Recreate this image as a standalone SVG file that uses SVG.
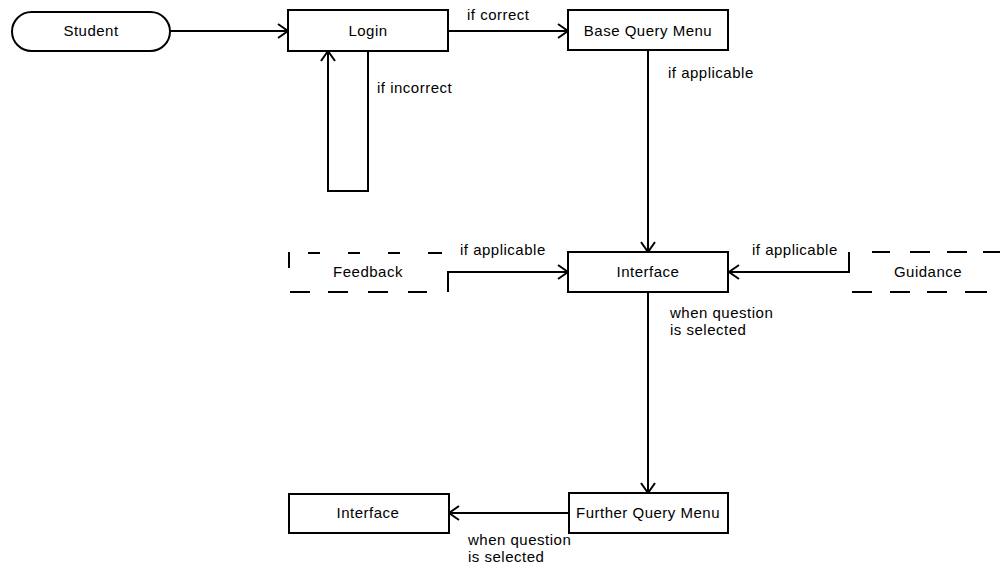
<svg xmlns="http://www.w3.org/2000/svg" width="1000" height="566" viewBox="0 0 1000 566">
<defs>
<style>
.box{fill:#fff;stroke:#000;stroke-width:2}
.t{font-family:"Liberation Sans",Arial,sans-serif;font-size:15px;letter-spacing:0.5px;fill:#000}
.c{text-anchor:middle}
.ln{fill:none;stroke:#000;stroke-width:2}
.d{fill:none;stroke:#000;stroke-width:2}
</style>
<marker id="arr" viewBox="0 0 12 16" refX="11" refY="8" markerWidth="12" markerHeight="16" markerUnits="userSpaceOnUse" orient="auto">
<path d="M1,1 L11,8 L1,15" fill="none" stroke="#000" stroke-width="2"/>
</marker>
</defs>
<rect width="1000" height="566" fill="#fff"/>
<g id="connectors">
<path class="ln" d="M170,31 H288" marker-end="url(#arr)"/>
<path class="ln" d="M368,51 V191 H328 V51" marker-end="url(#arr)"/>
<path class="ln" d="M448,31 H568" marker-end="url(#arr)"/>
<path class="ln" d="M648,50 V252" marker-end="url(#arr)"/>
<path class="ln" d="M448,292 V272 H568" marker-end="url(#arr)"/>
<path class="ln" d="M849,252 V272 H729" marker-end="url(#arr)"/>
<path class="ln" d="M648,292 V493" marker-end="url(#arr)"/>
<path class="ln" d="M568,513 H449" marker-end="url(#arr)"/>
<text class="t" x="467" y="20">if correct</text>
<text class="t" x="377" y="93">if incorrect</text>
<text class="t" x="668" y="78">if applicable</text>
<text class="t" x="460" y="255">if applicable</text>
<text class="t" x="752" y="255">if applicable</text>
<text class="t" x="670" y="318">when question</text>
<text class="t" x="670" y="335">is selected</text>
<text class="t" x="468" y="545">when question</text>
<text class="t" x="468" y="562">is selected</text>
</g>
<g id="student">
<rect class="box" x="12" y="12" width="158" height="39" rx="19.5"/>
<text class="t c" x="91" y="36">Student</text>
</g>
<g id="login">
<rect class="box" x="288" y="10" width="160" height="41"/>
<text class="t c" x="368" y="36">Login</text>
</g>
<g id="base-query-menu">
<rect class="box" x="568" y="10" width="160" height="40"/>
<text class="t c" x="648" y="36">Base Query Menu</text>
</g>
<g id="interface">
<rect class="box" x="568" y="252" width="160" height="40"/>
<text class="t c" x="648" y="277">Interface</text>
</g>
<g id="feedback">
<path class="d" d="M289,252 V268"/>
<path class="d" d="M308,253 H320 M348,253 H360 M388,253 H400 M428,253 H442"/>
<path class="d" d="M290,292 H310 M328,292 H348 M368,292 H388 M408,292 H427"/>
<text class="t c" x="368" y="277">Feedback</text>
</g>
<g id="guidance">
<path class="d" d="M872,252 H890 M910,252 H930 M947,252 H967 M983,252 H1000"/>
<path class="d" d="M852,292 H872 M890,292 H910 M927,292 H947 M965,292 H987"/>
<text class="t c" x="928" y="277">Guidance</text>
</g>
<g id="further-query-menu">
<rect class="box" x="569" y="493" width="159" height="40"/>
<text class="t c" x="648" y="518">Further Query Menu</text>
</g>
<g id="interface-2">
<rect class="box" x="289" y="494" width="160" height="39"/>
<text class="t c" x="368" y="518">Interface</text>
</g>
</svg>
